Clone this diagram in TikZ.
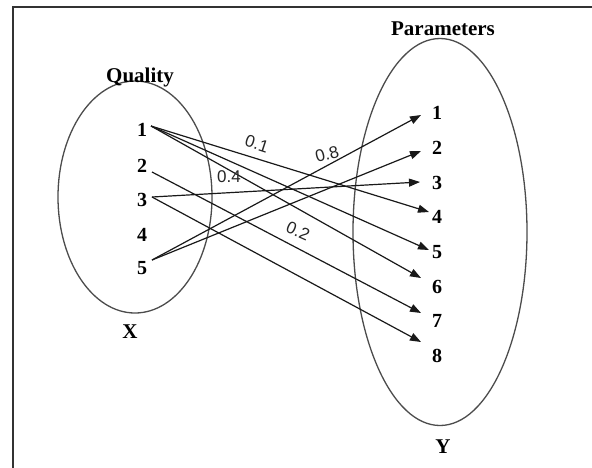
\documentclass[tikz,border=0pt]{standalone}
\usepackage{fontspec}
\setmainfont{Liberation Serif}
\newfontfamily\lblfont{Liberation Sans}
\usetikzlibrary{arrows.meta,calc,shapes.geometric}
\tikzset{
  num/.style={font=\fontsize{20}{22}\selectfont\bfseries, inner sep=0pt},
  ttl/.style={font=\fontsize{21}{23}\selectfont\bfseries, inner sep=0pt},
  wlabel/.style={font=\fontsize{17}{19}\selectfont\lblfont, inner sep=0pt, text=black!85},
  setell/.style={draw=black!70, line width=1.3pt},
  conn/.style={draw=black!90, line width=1.2pt, -{Triangle[length=11pt,width=8pt]}},
  frame/.style={draw=black!80, line width=1.5pt}
}
\begin{document}
\begin{tikzpicture}[x=1pt,y=-1pt]
\useasboundingbox (0,0) rectangle (592,467);
\fill[white] (0,0) rectangle (592,467);
% frame (only top and left edges visible)
\draw[frame] (593,7) -- (13,7) -- (13,468);
% sets
\node[setell, ellipse, minimum width=154pt, minimum height=232pt, inner sep=0pt] (setX) at (135,197) {};
\node[setell, ellipse, minimum width=174pt, minimum height=387pt, inner sep=0pt] (setY) at (440,232) {};
% titles
\node[ttl] (tq) at (140,77) {Quality};
\node[ttl] (tp) at (443,29) {Parameters};
\node[ttl] (tx) at (130,332) {X};
\node[ttl] (ty) at (443,447) {Y};
% left numbers
\node[num] (l1) at (142,130) {1};
\node[num] (l2) at (142,166) {2};
\node[num] (l3) at (142,200) {3};
\node[num] (l4) at (142,235) {4};
\node[num] (l5) at (142,268) {5};
% right numbers
\node[num] (r1) at (437,113) {1};
\node[num] (r2) at (437,148) {2};
\node[num] (r3) at (437,183) {3};
\node[num] (r4) at (437,217) {4};
\node[num] (r5) at (437,252) {5};
\node[num] (r6) at (437,287) {6};
\node[num] (r7) at (437,321) {7};
\node[num] (r8) at (437,356) {8};
% connector end points
\coordinate (s1) at ($(l1)+(9,-4)$);
\coordinate (s2) at ($(l2)+(10,6)$);
\coordinate (s3) at ($(l3)+(10,-3)$);
\coordinate (s5) at ($(l5)+(10,-8)$);
\coordinate (e1) at ($(r1)+(-16,2)$);
\coordinate (e2) at ($(r2)+(-16,3)$);
\coordinate (e3) at ($(r3)+(-17,-1)$);
\coordinate (e4) at ($(r4)+(-8,-5)$);
\coordinate (e5) at ($(r5)+(-8,-2)$);
\coordinate (e6) at ($(r6)+(-16,-9)$);
\coordinate (e7) at ($(r7)+(-16,-8)$);
\coordinate (e8) at ($(r8)+(-16,-14)$);
% connectors
\draw[conn] (s1) -- (e4);
\draw[conn] (s1) -- (e5);
\draw[conn] (s1) -- (e6);
\draw[conn] (s2) -- (e7);
\draw[conn] (s3) -- (e3);
\draw[conn] (s3) -- (e8);
\draw[conn] (s5) -- (e1);
\draw[conn] (s5) -- (e2);
% weights
\node[wlabel, rotate=-18] (w1) at (257,144) {0.1};
\node[wlabel, rotate=15] (w8) at (327,154) {0.8};
\node[wlabel] (w4) at (229,177) {0.4};
\node[wlabel, rotate=-24] (w2) at (298,231) {0.2};
\end{tikzpicture}
\end{document}
